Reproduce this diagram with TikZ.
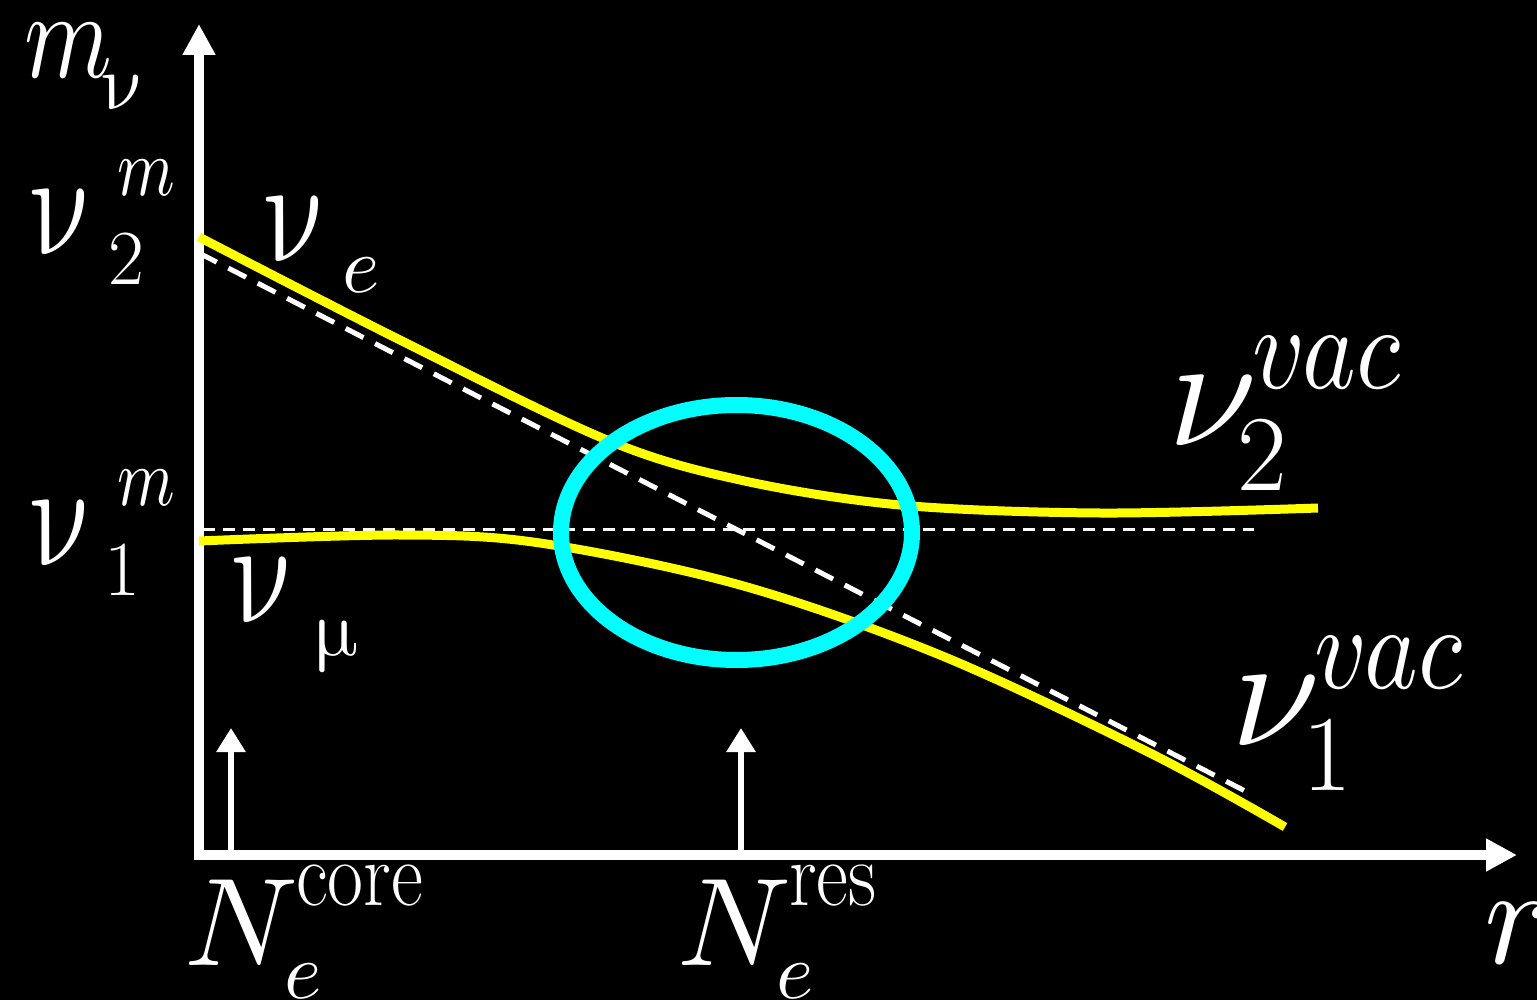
\documentclass[tikz,border=0pt]{standalone}
\usepackage{unicode-math}
\usetikzlibrary{arrows.meta,shapes.geometric}
\newcommand{\fs}[1]{\fontsize{#1}{#1}\selectfont}
\definecolor{aqua}{RGB}{0,255,255}
\definecolor{yel}{RGB}{255,255,0}
\begin{document}
\begin{tikzpicture}[x=1pt,y=-1pt,
  txt/.style={text=white,inner sep=0pt,anchor=base west},
  axisline/.style={draw=white,line width=10pt,-{Triangle[length=31pt,width=31pt]}},
  marker/.style={draw=white,line width=6pt,-{Triangle[length=24pt,width=28pt]}},
  curve/.style={draw=yel,line width=9pt},
  diagdash/.style={draw=white,line width=5pt,dash pattern=on 20pt off 13pt},
  flatdash/.style={draw=white,line width=3pt,dash pattern=on 12pt off 8pt},
  ring/.style={draw=aqua,line width=16pt,ellipse,inner sep=0pt,outer sep=0pt,minimum width=351pt,minimum height=255pt}]
\fill[black] (0,0) rectangle (1537,1000);
\useasboundingbox (0,0) rectangle (1537,1000);
% axes
\coordinate (Ybot) at (199,860);
\coordinate (Ytop) at (199,24);
\coordinate (Xend) at (1517,855);
\coordinate (Ocorner) at (194,855);
\draw[axisline] (Ybot) -- (Ytop);
\draw[axisline] (Ocorner) -- (Xend);
% markers
\coordinate (c0) at (231,855);
\coordinate (c1) at (231,728);
\coordinate (r0) at (741,855);
\coordinate (r1) at (741,728);
\draw[marker] (c0) -- (c1);
\draw[marker] (r0) -- (r1);
% dashed asymptotes
\coordinate (d0) at (199,253);
\coordinate (d1) at (1247,792);
\coordinate (h0) at (203,529);
\coordinate (h1) at (1254,529);
\draw[diagdash] (d0) -- (d1);
\draw[flatdash] (h0) -- (h1);
% curves
\draw[curve] plot[smooth,tension=0.55] coordinates {(199,237) (400,340) (607,440) (740,480) (900,505) (1100,513) (1318,508)};
\draw[curve] plot[smooth,tension=0.55] coordinates {(199,541) (400,535) (540,543) (740,585) (940,655) (1150,753) (1285,827)};
% ring
\node[ring] (res) at (736.5,532.5) {};
% labels
\node[txt,font=\fs{125}] (mlab) at (24,78) {\scalebox{0.8}[1]{$m$}};
\node[txt,font=\fs{78}] (mnu) at (104,110) {$\symup{\nu}$};
\node[txt,font=\fs{135}] (n2m) at (34,255) {\scalebox{0.85}[1.1]{$\symup{\nu}$}};
\node[txt,font=\fs{82}] (n2ms) at (117,196) {\scalebox{0.8}[1]{$m$}};
\node[txt,font=\fs{78}] (n2mi) at (108,285) {2};
\node[txt,font=\fs{135}] (nue) at (268,262) {\scalebox{0.85}[1.1]{$\symup{\nu}$}};
\node[txt,font=\fs{80}] (nuei) at (342,293) {$e$};
\node[txt,font=\fs{135}] (n1m) at (34,565) {\scalebox{0.85}[1.1]{$\symup{\nu}$}};
\node[txt,font=\fs{82}] (n1ms) at (117,505) {\scalebox{0.8}[1]{$m$}};
\node[txt,font=\fs{78}] (n1mi) at (104,595) {1};
\node[txt,font=\fs{135}] (numu) at (236,622) {\scalebox{0.85}[1.1]{$\symup{\nu}$}};
\node[txt,font=\fs{80}] (numui) at (314,655) {$\symup{\mu}$};
\node[txt,font=\fs{160}] (v2) at (1168,445) {$\nu$};
\node[txt,font=\fs{120}] (v2s) at (1252,388) {\scalebox{0.85}[1]{$vac$}};
\node[txt,font=\fs{108}] (v2i) at (1237,490) {2};
\node[txt,font=\fs{160}] (v1) at (1231,745) {$\nu$};
\node[txt,font=\fs{120}] (v1s) at (1314,688) {\scalebox{0.85}[1]{$vac$}};
\node[txt,font=\fs{108}] (v1i) at (1302,790) {1};
\node[txt,font=\fs{125}] (Nc) at (184,965) {$N$};
\node[txt,font=\fs{92}] (Ncs) at (296,905) {\scalebox{0.85}[1]{core}};
\node[txt,font=\fs{80}] (Nci) at (284,998) {$e$};
\node[txt,font=\fs{125}] (Nr) at (677,965) {$N$};
\node[txt,font=\fs{92}] (Nrs) at (789,905) {\scalebox{0.85}[1]{res}};
\node[txt,font=\fs{80}] (Nri) at (776,998) {$e$};
\node[txt,font=\fs{140}] (rlab) at (1484,963) {$r$};
\end{tikzpicture}
\end{document}
